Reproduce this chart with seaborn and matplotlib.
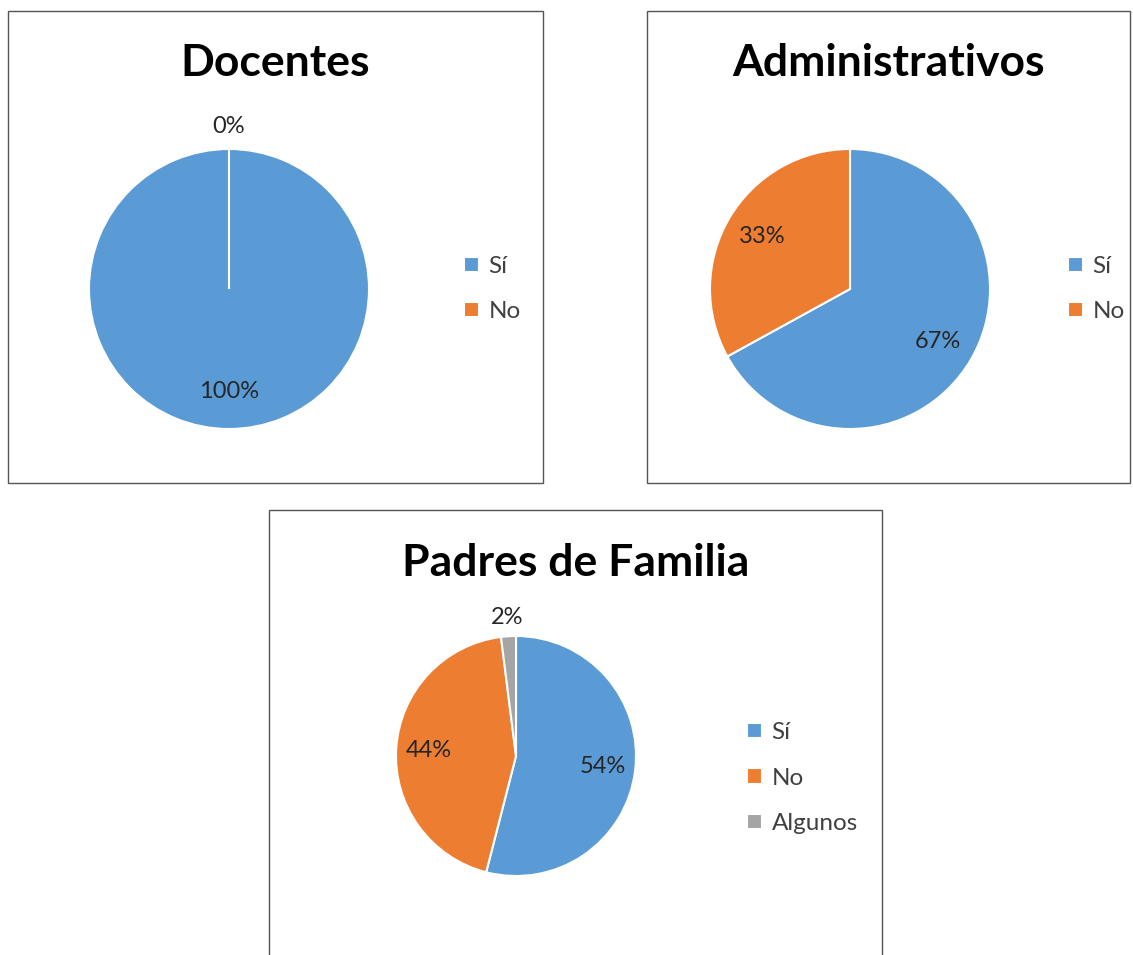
import matplotlib.pyplot as plt
from matplotlib.patches import Rectangle
import numpy as np
import seaborn as sns

# datos por grupo
docentes_labels = ["Sí", "No"]
docentes_values = [100, 0]

admin_labels = ["Sí", "No"]
admin_values = [67, 33]

padres_labels = ["Sí", "No", "Algunos"]
padres_values = [54, 44, 2]

W, H = 1133, 955
COLORS = ["#5B9BD5", "#ED7D31", "#A5A5A5"]
TEXT = "#404040"

sns.set_theme(style="white")
plt.rcParams["font.family"] = ["Lato", "DejaVu Sans"]

fig = plt.figure(figsize=(W / 100, H / 100), dpi=100)
fig.patch.set_facecolor("white")


def fx(px):
    return px / W


def fy(py):
    return 1 - py / H


def panel(box, title, title_y, labels, values, center, radius, legend_xy):
    x0, y0, x1, y1 = box
    fig.patches.append(Rectangle((fx(x0), fy(y1)), fx(x1 - x0), (y1 - y0) / H,
                                 transform=fig.transFigure, fill=False,
                                 edgecolor="#555555", linewidth=1.0))
    fig.text(fx((x0 + x1) / 2), fy(title_y), title, ha="center", va="center",
             fontsize=32, fontweight="bold", color="black")

    k = 1.35
    cx, cy = center
    half = radius * k
    ax = fig.add_axes([fx(cx - half), fy(cy + half), fx(2 * half), 2 * half / H])
    wedges, _ = ax.pie(values, colors=COLORS[:len(values)], startangle=90,
                       counterclock=False, radius=1,
                       wedgeprops=dict(edgecolor="white", linewidth=1.5))
    total = sum(values)
    for w, v in zip(wedges, values):
        mid = np.deg2rad((w.theta1 + w.theta2) / 2)
        dist = 1.16 if v / total < 0.05 else 0.73
        ax.text(dist * np.cos(mid), dist * np.sin(mid), f"{v / total:.0%}",
                ha="center", va="center", fontsize=17, color="#262626")
    ax.set_xlim(-k, k)
    ax.set_ylim(-k, k)
    ax.set_aspect("equal")
    ax.axis("off")

    fig.legend(wedges, labels, loc="center left",
               bbox_to_anchor=(fx(legend_xy[0]), fy(legend_xy[1])),
               frameon=False, fontsize=17.5, handlelength=0.6, handleheight=0.6,
               handletextpad=0.4, labelspacing=1.0, borderpad=0,
               labelcolor=TEXT)


panel((8, 11, 543, 483), "Docentes", 63, docentes_labels, docentes_values,
      (229, 289), 140, (452, 289))
panel((647, 11, 1130, 483), "Administrativos", 63, admin_labels, admin_values,
      (850, 289), 140, (1056, 289))
panel((269, 510, 882, 965), "Padres de Familia", 563, padres_labels, padres_values,
      (516, 756), 120, (735, 778))

fig.savefig("out.png", dpi=100, facecolor="white")
